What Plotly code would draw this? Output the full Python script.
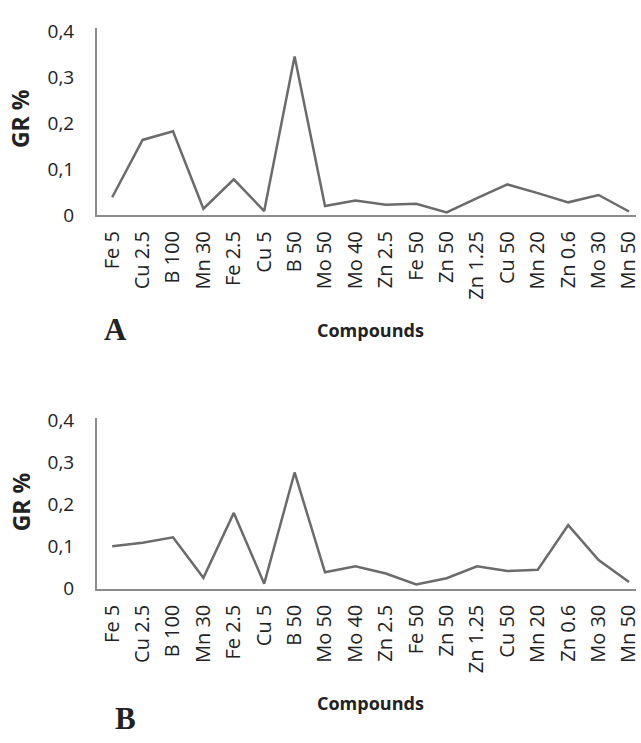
import plotly.graph_objects as go

categories = ["Fe 5", "Cu 2.5", "B 100", "Mn 30", "Fe 2.5", "Cu 5", "B 50", "Mo 50", "Mo 40",
              "Zn 2.5", "Fe 50", "Zn 50", "Zn 1.25", "Cu 50", "Mn 20", "Zn 0.6", "Mo 30", "Mn 50"]
gr_a = [0.039, 0.164, 0.183, 0.014, 0.078, 0.009, 0.346, 0.020, 0.032, 0.023, 0.025, 0.006,
        0.037, 0.067, 0.048, 0.028, 0.044, 0.008]
gr_b = [0.101, 0.109, 0.122, 0.026, 0.180, 0.012, 0.276, 0.039, 0.053, 0.036, 0.010, 0.025,
        0.053, 0.042, 0.045, 0.151, 0.068, 0.016]
y_tickvals = [0, 0.1, 0.2, 0.3, 0.4]
y_ticktext = ["0", "0,1", "0,2", "0,3", "0,4"]

W, H = 641, 743
LINE = "#6b6b6b"
AXIS = "#8c8c8c"
TXT = "#222222"
FONT = "Open Sans"

fig = go.Figure()
fig.add_trace(go.Scatter(x=categories, y=gr_a, mode="lines", line=dict(color=LINE, width=2.5),
                         xaxis="x", yaxis="y", showlegend=False))
fig.add_trace(go.Scatter(x=categories, y=gr_b, mode="lines", line=dict(color=LINE, width=2.5),
                         xaxis="x2", yaxis="y2", showlegend=False))

def px_y(p):
    return (H - p) / H

xcommon = dict(type="category", range=[-0.5, 17.23], showline=True, linecolor=AXIS, linewidth=2,
               showgrid=False, zeroline=False, ticks="", tickangle=-90, ticklabelstandoff=6,
               tickfont=dict(family=FONT, size=20, color=TXT), fixedrange=True)
ycommon = dict(showline=True, linecolor=AXIS, linewidth=2, showgrid=False, zeroline=False, ticks="",
               tickvals=y_tickvals, ticktext=y_ticktext, ticklabelstandoff=17,
               tickfont=dict(family=FONT, size=19, color=TXT), fixedrange=True)

fig.update_layout(
    width=W, height=H,
    margin=dict(l=97, r=0, t=0, b=0),
    paper_bgcolor="white", plot_bgcolor="white",
    xaxis=dict(xcommon, anchor="y", domain=[0, 1]),
    yaxis=dict(ycommon, anchor="x", domain=[px_y(211), px_y(18)], range=[0, 0.407]),
    xaxis2=dict(xcommon, anchor="y2", domain=[0, 1]),
    yaxis2=dict(ycommon, anchor="x2", domain=[px_y(597), px_y(420.5)], range=[0, 0.4055]),
)

def ann(text, x, y, size, family, bold=True, angle=0):
    fig.add_annotation(text=f"<b>{text}</b>" if bold else text, xref="paper", yref="paper",
                       x=(x - 97) / (W - 97), y=px_y(y), showarrow=False, textangle=angle,
                       xanchor="center", yanchor="middle",
                       font=dict(family=family, size=size, color=TXT))

ann("GR %", 20, 111, 23, FONT, angle=-90)
ann("GR %", 20, 507, 23, FONT, angle=-90)
ann("Compounds", 373, 330, 18, FONT)
ann("Compounds", 373, 715, 18, FONT)
ann("A", 116, 329, 31, "Liberation Serif")
ann("B", 126, 731, 31, "Liberation Serif")

fig.write_html("out.html")
